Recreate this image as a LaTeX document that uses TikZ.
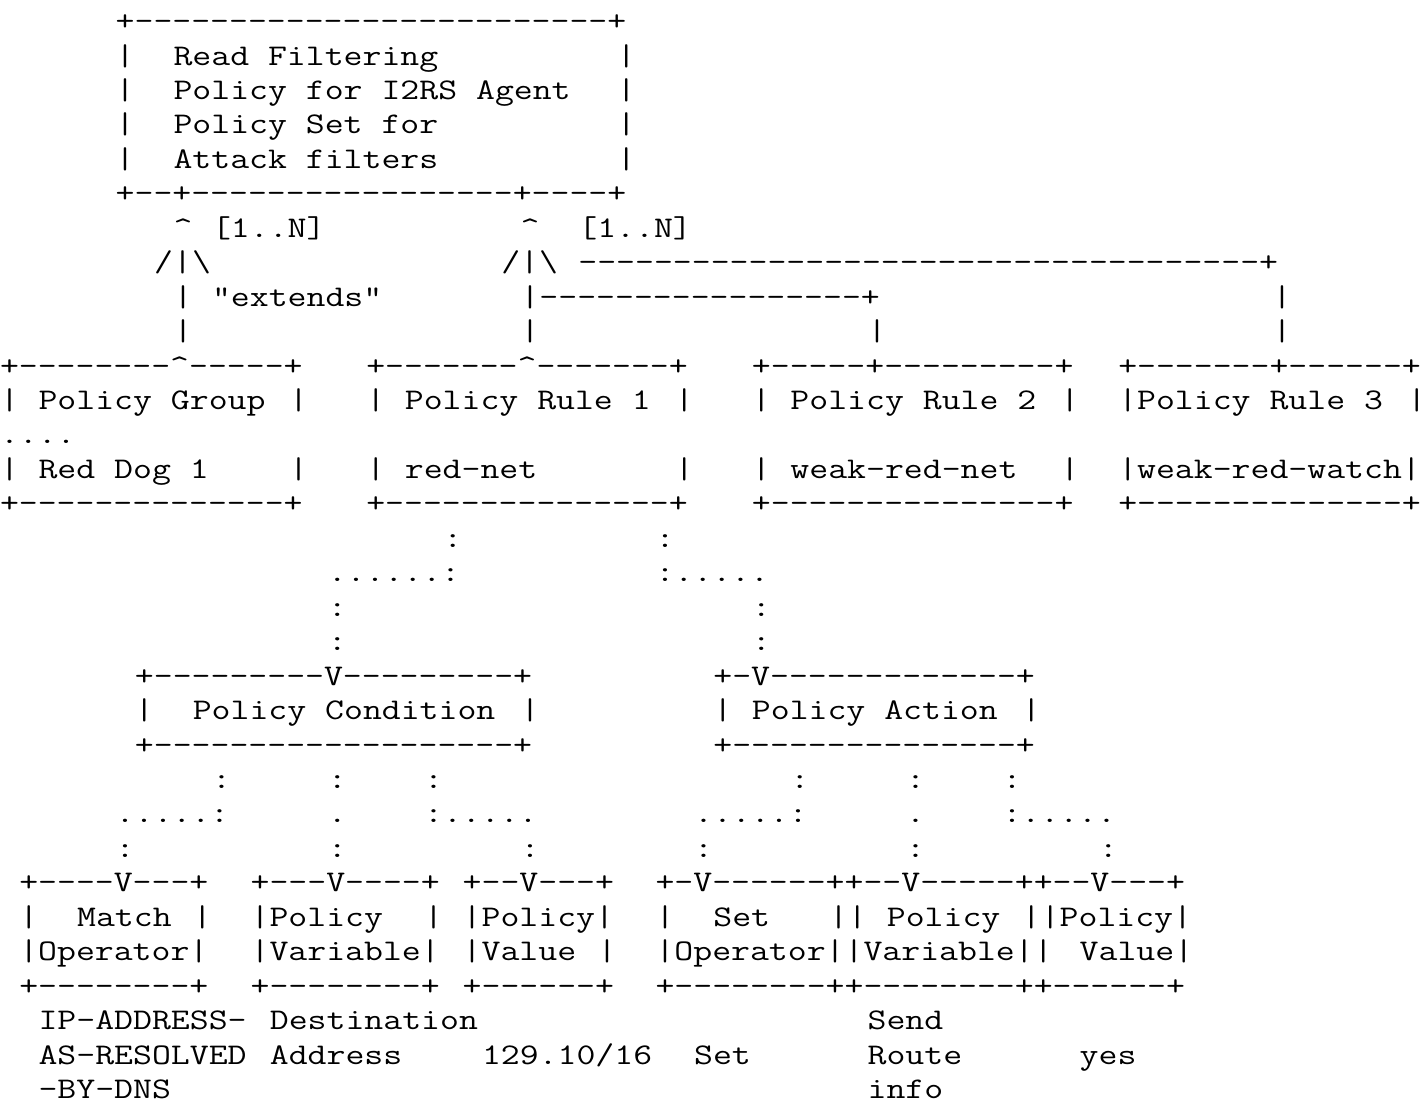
\documentclass[tikz,border=0pt]{standalone}
\usepackage{fontspec}
\usepackage{graphicx}
\frenchspacing
\tikzset{txt/.style={anchor=base west, inner sep=0pt, outer sep=0pt, text=black,
  font=\ttfamily\fontsize{15pt}{17pt}\selectfont}}
% place text at line #1 (1-based), column #2 (0-based)
\newcommand\T[3]{\node[txt] (L#1C#2) at ({#2*9.64pt},{1.95pt-#1*17.225pt}) {\scalebox{1.224}[1]{#3}};}
\newcommand\up{\textasciicircum}
\newcommand\bs{\textbackslash}
\begin{document}
\begin{tikzpicture}
\useasboundingbox[fill=white] (0,0) rectangle (713.5pt,-552pt);
% top box
\T{1}{6}{+-------------------------+}
\T{2}{6}{|}\T{2}{9}{Read Filtering}\T{2}{32}{|}
\T{3}{6}{|}\T{3}{9}{Policy for I2RS Agent}\T{3}{32}{|}
\T{4}{6}{|}\T{4}{9}{Policy Set for}\T{4}{32}{|}
\T{5}{6}{|}\T{5}{9}{Attack filters}\T{5}{32}{|}
\T{6}{6}{+--+-----------------+----+}
% connectors
\T{7}{9}{\up}\T{7}{11}{[1..N]}\T{7}{27}{\up}\T{7}{30}{[1..N]}
\T{8}{8}{/|\bs}\T{8}{26}{/|\bs}\T{8}{30}{------------------------------------+}
\T{9}{9}{|}\T{9}{11}{"extends"}\T{9}{27}{|-----------------+}\T{9}{66}{|}
\T{10}{9}{|}\T{10}{27}{|}\T{10}{45}{|}\T{10}{66}{|}
% rule row
\T{11}{0}{+--------\up-----+}\T{11}{19}{+-------\up-------+}\T{11}{39}{+-----+---------+}\T{11}{58}{+-------+------+}
\T{12}{0}{|}\T{12}{2}{Policy Group}\T{12}{15}{|}
\T{12}{19}{|}\T{12}{21}{Policy Rule 1}\T{12}{35}{|}
\T{12}{39}{|}\T{12}{41}{Policy Rule 2}\T{12}{55}{|}
\T{12}{58}{|Policy Rule 3}\T{12}{73}{|}
\T{13}{0}{....}
\T{14}{0}{|}\T{14}{2}{Red Dog 1}\T{14}{15}{|}
\T{14}{19}{|}\T{14}{21}{red-net}\T{14}{35}{|}
\T{14}{39}{|}\T{14}{41}{weak-red-net}\T{14}{55}{|}
\T{14}{58}{|weak-red-watch|}
\T{15}{0}{+--------------+}\T{15}{19}{+---------------+}\T{15}{39}{+---------------+}\T{15}{58}{+--------------+}
% dotted links
\T{16}{23}{:}\T{16}{34}{:}
\T{17}{17}{......:}\T{17}{34}{:.....}
\T{18}{17}{:}\T{18}{39}{:}
\T{19}{17}{:}\T{19}{39}{:}
% condition / action
\T{20}{7}{+---------V---------+}\T{20}{37}{+-V-------------+}
\T{21}{7}{|}\T{21}{10}{Policy Condition}\T{21}{27}{|}
\T{21}{37}{|}\T{21}{39}{Policy Action}\T{21}{53}{|}
\T{22}{7}{+-------------------+}\T{22}{37}{+---------------+}
\T{23}{11}{:}\T{23}{17}{:}\T{23}{22}{:}\T{23}{41}{:}\T{23}{47}{:}\T{23}{52}{:}
\T{24}{6}{.....:}\T{24}{17}{.}\T{24}{22}{:.....}\T{24}{36}{.....:}\T{24}{47}{.}\T{24}{52}{:.....}
\T{25}{6}{:}\T{25}{17}{:}\T{25}{27}{:}\T{25}{36}{:}\T{25}{47}{:}\T{25}{57}{:}
% bottom boxes
\T{26}{1}{+----V---+}\T{26}{13}{+---V----+}\T{26}{24}{+--V---+}\T{26}{34}{+-V------++--V-----++--V---+}
\T{27}{1}{|}\T{27}{4}{Match}\T{27}{10}{|}
\T{27}{13}{|Policy}\T{27}{22}{|}
\T{27}{24}{|Policy|}
\T{27}{34}{|}\T{27}{37}{Set}\T{27}{43}{||}\T{27}{46}{Policy}\T{27}{53}{||Policy|}
\T{28}{1}{|Operator|}\T{28}{13}{|Variable|}\T{28}{24}{|Value}\T{28}{31}{|}
\T{28}{34}{|Operator||Variable||}\T{28}{56}{Value|}
\T{29}{1}{+--------+}\T{29}{13}{+--------+}\T{29}{24}{+------+}\T{29}{34}{+--------++--------++------+}
% values
\T{30}{2}{IP-ADDRESS-}\T{30}{14}{Destination}\T{30}{45}{Send}
\T{31}{2}{AS-RESOLVED}\T{31}{14}{Address}\T{31}{25}{129.10/16}\T{31}{36}{Set}\T{31}{45}{Route}\T{31}{56}{yes}
\T{32}{2}{-BY-DNS}\T{32}{45}{info}
\end{tikzpicture}
\end{document}
